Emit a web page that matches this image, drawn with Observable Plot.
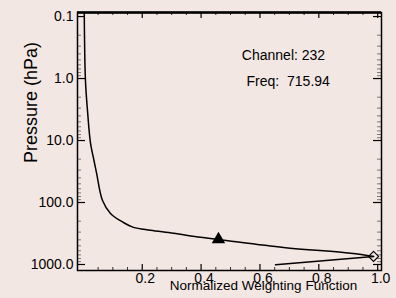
<!DOCTYPE html>
<html>
<head>
<meta charset="utf-8">
<script src="https://cdn.jsdelivr.net/npm/d3@7"></script>
<script src="https://cdn.jsdelivr.net/npm/@observablehq/plot@0.6"></script>
<style>
  html, body { margin: 0; padding: 0; background: #f3e7e3; }
</style>
</head>
<body>
<div id="chart"></div>
<script>
// Weighting function profile (pressure in hPa, normalized weight)
const pressure = [0.086, 1.07, 3.3, 10.8, 21, 34, 93, 150, 210, 252, 280, 313, 365, 394, 530, 660, 740, 1013];
const weight   = [0.003, 0.007, 0.014, 0.024, 0.036, 0.045, 0.065, 0.092, 0.136, 0.17, 0.228, 0.306, 0.398, 0.459, 0.68, 0.908, 0.986, 0.653];

const triangleP = [394];
const triangleW = [0.459];
const diamondP = [740];
const diamondW = [0.986];

const channelText = ["Channel: 232"];
const freqText = ["Freq:  715.94"];

const xTickValues = [0.2, 0.4, 0.6, 0.8, 1.0];
const xTickLabels = ["0.2", "0.4", "0.6", "0.8", "1.0"];
const xMinorTicks = [0.05, 0.1, 0.15, 0.25, 0.3, 0.35, 0.45, 0.5, 0.55, 0.65, 0.7, 0.75, 0.85, 0.9, 0.95];
const yTickValues = [0.1, 1, 10, 100, 1000];
const yTickLabels = ["0.1", "1.0", "10.0", "100.0", "1000.0"];
const yMinorTicks = [0.2,0.3,0.4,0.5,0.6,0.7,0.8,0.9, 2,3,4,5,6,7,8,9, 20,30,40,50,60,70,80,90, 200,300,400,500,600,700,800,900];

const xTitle = "Normalized Weighting Function";
const yTitle = "Pressure (hPa)";

const profile = pressure.map((p, i) => ({p, w: weight[i]}));
const peakIndex = weight.indexOf(d3.max(weight));
const upper = profile.slice(0, peakIndex + 1);
const lower = profile.slice(peakIndex);

const W = 396, H = 298, mL = 77, mR = 15, mT = 12, mB = 28;
const innerW = W - mL - mR, innerH = H - mT - mB;

const chart = Plot.plot({
  width: W, height: H,
  marginLeft: mL, marginRight: mR, marginTop: mT, marginBottom: mB,
  style: {background: "#f3e7e3", fontFamily: "'Liberation Sans', Arial, sans-serif", color: "#000", overflow: "visible"},
  x: {domain: [-0.02, 1.013]},
  y: {type: "log", domain: [0.086, 1250], reverse: true},
  marks: [
    // minor ticks (inward)
    Plot.tickX(xMinorTicks, {x: d => d, insetTop: innerH - 3, stroke: "#333", strokeWidth: 1}),
    Plot.tickX(xMinorTicks, {x: d => d, insetBottom: innerH - 3, stroke: "#333", strokeWidth: 1}),
    Plot.tickX(xTickValues, {x: d => d, insetTop: innerH - 6, stroke: "#000", strokeWidth: 1.2}),
    Plot.tickX(xTickValues, {x: d => d, insetBottom: innerH - 6, stroke: "#000", strokeWidth: 1.2}),
    Plot.tickY(yMinorTicks, {y: d => d, insetRight: innerW - 4, stroke: "#777", strokeWidth: 1}),
    Plot.tickY(yMinorTicks, {y: d => d, insetLeft: innerW - 4, stroke: "#777", strokeWidth: 1}),
    Plot.tickY(yTickValues, {y: d => d, insetRight: innerW - 8, stroke: "#000", strokeWidth: 1.2}),
    Plot.tickY(yTickValues, {y: d => d, insetLeft: innerW - 8, stroke: "#000", strokeWidth: 1.2}),
    // frame
    Plot.frame({stroke: "#000", strokeWidth: 1.5}),
    Plot.ruleY([0.086], {stroke: "#000", strokeWidth: 2.5}),
    // axes labels
    Plot.axisX(xTickValues, {tickSize: 0, tickPadding: 3, fontSize: 14, dx: 3, label: null,
      tickFormat: d => xTickLabels[xTickValues.indexOf(d)]}),
    Plot.axisY(yTickValues, {tickSize: 0, tickPadding: 4, fontSize: 14, label: null,
      tickFormat: d => yTickLabels[yTickValues.indexOf(d)]}),
    // curve
    Plot.line(upper, {x: "w", y: "p", stroke: "#000", strokeWidth: 1.5, curve: "catmull-rom"}),
    Plot.line(lower, {x: "w", y: "p", stroke: "#000", strokeWidth: 1.5}),
    Plot.dot(triangleW, {x: d => d, y: (d, i) => triangleP[i], symbol: "triangle", fill: "#000", r: 5}),
    Plot.dot(diamondW, {x: d => d, y: (d, i) => diamondP[i], symbol: "diamond2", stroke: "#000", fill: "none", strokeWidth: 1.2, r: 4.5}),
    // annotations
    Plot.text(channelText, {x: () => 0.680, y: () => 0.426, text: d => d, fontSize: 14, fill: "#000"}),
    Plot.text(freqText, {x: () => 0.696, y: () => 1.10, text: d => d, fontSize: 14, fill: "#000"}),
    // titles
    Plot.text([xTitle], {x: () => 0.612, frameAnchor: "bottom", dy: 19, text: d => d, fontSize: 13.5, fill: "#000"}),
    Plot.text([yTitle], {x: () => -0.177, y: () => 2.44, rotate: -90, text: d => d, fontSize: 18, fill: "#000"})
  ]
});
document.getElementById("chart").appendChild(chart);
</script>
</body>
</html>
